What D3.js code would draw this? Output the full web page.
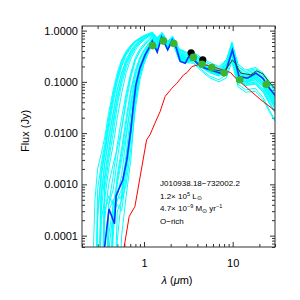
<!DOCTYPE html>
<html>
<head>
<meta charset="utf-8">
<script src="https://cdn.jsdelivr.net/npm/d3@7"></script>
<style>
	body { margin: 0; background: #fff; }
	svg { display: block; font-family: "Liberation Sans", Arial, sans-serif; }
</style>
</head>
<body>
<svg class="chart" width="300" height="300"></svg>
<script>
////////////////////////////////////////////////////////////
//// Data //////////////////////////////////////////////////
////////////////////////////////////////////////////////////
// wavelength grid of the grid models (um)
const modelWavelengths = [0.25, 0.28, 0.3, 0.33, 0.36, 0.4, 0.45, 0.5, 0.56, 0.63, 0.71, 0.8, 0.9, 1.0, 1.12, 1.25, 1.4, 1.6, 1.85, 2.1, 2.5, 3.0, 3.6, 4.5, 5.5, 7.0, 8.5, 9.8, 11.5, 14, 18, 22, 26, 30];

// acceptable models (Jy), cyan
const cyanModels = [
	[1e-6, 1e-6, 8e-4, 2.5e-3, 6e-3, 0.02, 0.06, 0.13, 0.25, 0.38, 0.5, 0.62, 0.7, 0.78, 0.85, 0.9, 0.7, 0.88, 0.6, 0.75, 0.42, 0.36, 0.36, 0.27, 0.22, 0.18, 0.25, 0.55, 0.2, 0.15, 0.17, 0.13, 0.09, 0.065],
	[1e-6, 1e-6, 1e-6, 1.5e-3, 4e-3, 0.012, 0.04, 0.1, 0.2, 0.33, 0.46, 0.58, 0.68, 0.76, 0.83, 0.9, 0.68, 0.9, 0.58, 0.74, 0.38, 0.33, 0.34, 0.25, 0.2, 0.17, 0.22, 0.5, 0.17, 0.13, 0.15, 0.11, 0.075, 0.052],
	[1e-6, 1e-6, 1e-6, 6e-4, 2.5e-3, 8e-3, 0.025, 0.07, 0.15, 0.27, 0.4, 0.53, 0.64, 0.72, 0.8, 0.87, 0.66, 0.88, 0.56, 0.72, 0.36, 0.3, 0.31, 0.23, 0.18, 0.155, 0.2, 0.45, 0.15, 0.12, 0.14, 0.1, 0.065, 0.045],
	[1e-6, 1e-6, 1e-6, 1e-6, 1.2e-3, 4e-3, 0.015, 0.045, 0.11, 0.22, 0.35, 0.48, 0.6, 0.7, 0.78, 0.85, 0.62, 0.86, 0.55, 0.7, 0.34, 0.29, 0.3, 0.22, 0.175, 0.15, 0.19, 0.4, 0.14, 0.115, 0.13, 0.095, 0.06, 0.04],
	[1e-6, 1e-6, 1e-6, 1e-6, 3e-4, 6e-4, 4e-4, 1.2e-3, 4e-3, 0.015, 0.06, 0.15, 0.28, 0.4, 0.55, 0.72, 0.5, 0.8, 0.48, 0.66, 0.3, 0.27, 0.29, 0.21, 0.17, 0.15, 0.2, 0.45, 0.13, 0.11, 0.13, 0.095, 0.06, 0.042],
	[1e-6, 1e-6, 1e-6, 1e-6, 1e-6, 5e-5, 3e-4, 4e-4, 3e-4, 1.5e-3, 8e-3, 0.045, 0.14, 0.26, 0.42, 0.62, 0.45, 0.75, 0.45, 0.62, 0.28, 0.25, 0.27, 0.2, 0.16, 0.14, 0.18, 0.38, 0.12, 0.1, 0.12, 0.085, 0.052, 0.035],
	[1e-6, 1e-6, 1e-6, 1e-6, 1e-6, 1e-6, 2e-4, 5e-4, 6e-4, 3e-3, 0.015, 0.07, 0.18, 0.3, 0.46, 0.65, 0.48, 0.78, 0.46, 0.64, 0.29, 0.26, 0.28, 0.2, 0.16, 0.14, 0.19, 0.42, 0.125, 0.1, 0.12, 0.09, 0.055, 0.038],
	[1e-6, 1e-6, 1e-6, 1e-6, 1e-6, 1e-6, 1e-6, 8e-5, 6e-4, 3e-3, 0.015, 0.06, 0.15, 0.26, 0.4, 0.58, 0.42, 0.72, 0.42, 0.6, 0.26, 0.24, 0.26, 0.19, 0.15, 0.13, 0.17, 0.35, 0.11, 0.09, 0.1, 0.07, 0.04, 0.026],
	[1e-6, 1e-6, 1e-6, 6e-4, 2.5e-3, 8e-3, 0.025, 0.07, 0.15, 0.27, 0.4, 0.53, 0.64, 0.72, 0.8, 0.86, 0.64, 0.86, 0.54, 0.7, 0.34, 0.27, 0.24, 0.17, 0.13, 0.11, 0.14, 0.28, 0.09, 0.07, 0.075, 0.05, 0.028, 0.018],
	[1e-6, 1e-6, 1e-6, 1e-6, 8e-4, 3e-3, 0.01, 0.035, 0.09, 0.19, 0.32, 0.46, 0.58, 0.68, 0.77, 0.85, 0.64, 0.87, 0.55, 0.72, 0.37, 0.32, 0.33, 0.25, 0.2, 0.17, 0.23, 0.55, 0.17, 0.13, 0.15, 0.115, 0.08, 0.058],
	[1e-6, 1e-6, 3e-4, 1.5e-3, 4e-3, 0.015, 0.05, 0.12, 0.24, 0.37, 0.5, 0.62, 0.72, 0.8, 0.87, 0.93, 0.72, 0.92, 0.62, 0.78, 0.44, 0.38, 0.38, 0.29, 0.24, 0.2, 0.27, 0.6, 0.22, 0.17, 0.19, 0.15, 0.1, 0.075],
	[1e-6, 1e-6, 1e-6, 1e-6, 1e-6, 1e-4, 4e-4, 5e-4, 8e-4, 4e-3, 0.025, 0.09, 0.2, 0.32, 0.48, 0.66, 0.5, 0.8, 0.5, 0.66, 0.31, 0.27, 0.28, 0.21, 0.165, 0.14, 0.18, 0.36, 0.12, 0.1, 0.11, 0.08, 0.048, 0.032],
	[1e-6, 1e-6, 1e-6, 1e-6, 2e-4, 1e-3, 2.5e-3, 5e-3, 0.012, 0.04, 0.12, 0.26, 0.4, 0.52, 0.64, 0.78, 0.56, 0.84, 0.52, 0.7, 0.33, 0.29, 0.3, 0.22, 0.18, 0.16, 0.21, 0.48, 0.15, 0.12, 0.14, 0.1, 0.067, 0.047],
	[1e-6, 1e-6, 1e-6, 1e-6, 1e-6, 1e-6, 1e-4, 1e-3, 3e-3, 0.01, 0.035, 0.1, 0.22, 0.34, 0.5, 0.68, 0.46, 0.8, 0.46, 0.64, 0.28, 0.25, 0.27, 0.2, 0.16, 0.135, 0.18, 0.4, 0.12, 0.095, 0.11, 0.08, 0.05, 0.034],
	[1e-6, 1e-6, 1e-6, 1e-6, 1e-6, 1e-6, 1e-6, 1e-6, 1e-4, 6e-4, 3e-3, 0.04, 0.13, 0.24, 0.38, 0.56, 0.4, 0.7, 0.42, 0.6, 0.27, 0.25, 0.26, 0.19, 0.155, 0.13, 0.17, 0.33, 0.11, 0.085, 0.095, 0.065, 0.038, 0.025],
	[1e-6, 1e-6, 2e-4, 2e-3, 5e-3, 0.016, 0.05, 0.11, 0.22, 0.35, 0.48, 0.6, 0.69, 0.77, 0.84, 0.9, 0.68, 0.88, 0.58, 0.74, 0.4, 0.34, 0.33, 0.25, 0.2, 0.17, 0.23, 0.5, 0.18, 0.14, 0.16, 0.12, 0.08, 0.058],
	[1e-6, 1e-6, 1e-6, 1e-6, 5e-4, 2e-3, 6e-3, 0.02, 0.06, 0.15, 0.28, 0.42, 0.55, 0.65, 0.75, 0.83, 0.6, 0.84, 0.52, 0.68, 0.33, 0.28, 0.28, 0.21, 0.165, 0.14, 0.18, 0.38, 0.125, 0.1, 0.11, 0.08, 0.05, 0.033],
	[1e-6, 1e-6, 1e-6, 2e-4, 5e-4, 4e-4, 8e-4, 3e-3, 0.012, 0.05, 0.14, 0.27, 0.4, 0.5, 0.62, 0.76, 0.55, 0.82, 0.5, 0.68, 0.32, 0.28, 0.3, 0.22, 0.18, 0.155, 0.21, 0.46, 0.14, 0.115, 0.135, 0.1, 0.065, 0.045],
	[1e-6, 1e-6, 1e-6, 1e-6, 1e-6, 3e-4, 5e-4, 6e-4, 1.5e-3, 8e-3, 0.04, 0.13, 0.27, 0.38, 0.52, 0.7, 0.5, 0.8, 0.48, 0.65, 0.3, 0.26, 0.27, 0.2, 0.16, 0.135, 0.175, 0.36, 0.115, 0.09, 0.1, 0.072, 0.044, 0.03],
	[1e-6, 1e-6, 1e-6, 1e-6, 1e-6, 1e-6, 5e-4, 6e-4, 5e-4, 2e-3, 0.01, 0.05, 0.15, 0.27, 0.43, 0.62, 0.46, 0.76, 0.45, 0.62, 0.28, 0.26, 0.27, 0.21, 0.17, 0.15, 0.2, 0.44, 0.13, 0.105, 0.125, 0.09, 0.058, 0.04],
	[1e-6, 1e-6, 1e-6, 1e-6, 1e-6, 1e-6, 1e-6, 3e-4, 5e-4, 1e-3, 5e-3, 0.03, 0.11, 0.22, 0.37, 0.56, 0.42, 0.72, 0.43, 0.6, 0.27, 0.25, 0.26, 0.2, 0.16, 0.14, 0.18, 0.4, 0.12, 0.1, 0.12, 0.085, 0.053, 0.036],
	[1e-6, 5e-4, 2e-3, 4e-3, 8e-3, 0.025, 0.07, 0.15, 0.27, 0.4, 0.52, 0.63, 0.72, 0.79, 0.86, 0.92, 0.72, 0.9, 0.62, 0.76, 0.43, 0.37, 0.36, 0.27, 0.22, 0.19, 0.26, 0.58, 0.2, 0.16, 0.18, 0.14, 0.095, 0.07],
	[1e-6, 1e-6, 1e-6, 1e-6, 1e-6, 4e-4, 1.5e-3, 6e-3, 0.02, 0.06, 0.15, 0.3, 0.44, 0.56, 0.68, 0.8, 0.58, 0.85, 0.53, 0.7, 0.34, 0.3, 0.31, 0.23, 0.19, 0.165, 0.22, 0.5, 0.16, 0.125, 0.145, 0.11, 0.072, 0.05],
	[1e-6, 1e-6, 1e-6, 1e-6, 1e-6, 1e-6, 2e-4, 1.5e-3, 5e-3, 0.02, 0.07, 0.17, 0.3, 0.42, 0.55, 0.7, 0.5, 0.78, 0.46, 0.62, 0.28, 0.24, 0.23, 0.16, 0.12, 0.1, 0.12, 0.25, 0.08, 0.063, 0.065, 0.045, 0.026, 0.017],
	[1e-6, 1e-6, 1e-6, 3e-4, 1.5e-3, 5e-3, 0.018, 0.05, 0.12, 0.24, 0.37, 0.5, 0.62, 0.71, 0.8, 0.87, 0.65, 0.87, 0.56, 0.71, 0.36, 0.3, 0.29, 0.21, 0.16, 0.135, 0.17, 0.34, 0.11, 0.085, 0.09, 0.063, 0.038, 0.025]
];

// best fit model, blue
const bestWavelengths = [0.35, 0.36, 0.403, 0.465, 0.485, 0.577, 0.641, 0.711, 0.76, 0.811, 0.901, 1.03, 1.17, 1.24, 1.41, 1.58, 1.85, 2.08, 2.31, 2.56, 2.92, 3.19, 3.63, 4.33, 5.62, 7.3, 7.97, 8.7, 9.93, 11.8, 14.7, 18.3, 21.8, 25.9, 30.8];
const bestFlux = [1e-5, 6e-5, 3.3e-4, 1.7e-4, 6e-4, 1.23e-3, 3.0e-3, 0.0116, 0.0356, 0.0875, 0.187, 0.336, 0.5, 0.63, 0.38, 0.75, 0.42, 0.66, 0.46, 0.25, 0.23, 0.31, 0.27, 0.2, 0.17, 0.148, 0.137, 0.2, 0.42, 0.127, 0.118, 0.148, 0.118, 0.075, 0.052];

// stellar photosphere, red
const starWavelengths = [0.59, 0.597, 0.681, 0.79, 1.07, 1.17, 1.33, 1.52, 1.73, 2.06, 2.35, 2.8, 3.06, 3.48, 4.33, 5.62, 7.64, 9.49, 10.8, 14.7, 20.8, 30.8];
const starFlux = [1e-5, 6e-5, 2.37e-4, 3.7e-4, 7.4e-3, 9.3e-3, 0.0157, 0.0264, 0.0517, 0.075, 0.094, 0.137, 0.152, 0.199, 0.221, 0.205, 0.171, 0.152, 0.118, 0.075, 0.0446, 0.0264];

// IRS spectrum, dark line
const irsWavelengths = [5.34, 6.41, 7.97, 8.77, 9.93, 10.8, 12.3, 16.0, 18.7, 21.9, 25.7, 30.8];
const irsFlux = [0.187, 0.171, 0.157, 0.196, 0.268, 0.224, 0.148, 0.137, 0.164, 0.143, 0.1, 0.07];

// photometry
const photWavelengths = [1.25, 1.65, 2.17, 3.6, 4.5, 5.8, 8.0, 12, 24];
const photFlux = [0.51, 0.63, 0.56, 0.30, 0.22, 0.19, 0.15, 0.11, 0.09];
const wiseWavelengths = [3.4, 4.6];
const wiseFlux = [0.37, 0.27];

const yTicks = [1, 0.1, 0.01, 0.001, 0.0001];
const xTicks = [1, 10];

const sourceName = "J010938.18\u2212732002.2";

////////////////////////////////////////////////////////////
//// Setup /////////////////////////////////////////////////
////////////////////////////////////////////////////////////
const svg = d3.select(".chart");
const margin = { top: 26, right: 25, bottom: 53, left: 82 };
const width = 300 - margin.left - margin.right;
const height = 300 - margin.top - margin.bottom;

const x = d3.scaleLog().domain([0.2, 30]).range([0, width]);
const y = d3.scaleLog().domain([6e-5, 1.23]).range([height, 0]);

const g = svg
	.append("g")
	.attr("transform", `translate(${margin.left},${margin.top})`);

g.append("clipPath")
	.attr("id", "clip")
	.append("rect")
	.attr("width", width)
	.attr("height", height);

const line = d3
	.line()
	.x(d => x(d[0]))
	.y(d => y(d[1]));

const axisColor = "#333";

////////////////////////////////////////////////////////////
//// Axes //////////////////////////////////////////////////
////////////////////////////////////////////////////////////
const xMinor = [];
const yMinor = [];
[0.1, 1, 10].forEach(dec => {
	for (let k = 2; k <= 9; k++) {
		const v = dec * k;
		if (v >= 0.2 && v <= 30) xMinor.push(v);
	}
});
[1e-5, 1e-4, 1e-3, 1e-2, 1e-1, 1].forEach(dec => {
	for (let k = 2; k <= 9; k++) {
		const v = dec * k;
		if (v >= 6e-5 && v <= 1.23) yMinor.push(v);
	}
});

function styleAxis(sel) {
	sel.select(".domain").remove();
	sel.selectAll("line").attr("stroke", axisColor);
	sel.selectAll("text")
		.attr("fill", "#000")
		.style("font-size", "11px");
}

g.append("g")
	.attr("transform", `translate(0,${height})`)
	.call(d3.axisBottom(x).tickValues(xTicks).tickSize(-5).tickPadding(12).tickFormat(d3.format("d")))
	.call(styleAxis);
g.append("g")
	.attr("transform", `translate(0,${height})`)
	.call(d3.axisBottom(x).tickValues(xMinor).tickSize(-3).tickFormat(""))
	.call(styleAxis);
g.append("g")
	.call(d3.axisTop(x).tickValues(xTicks).tickSize(-5).tickFormat(""))
	.call(styleAxis);
g.append("g")
	.call(d3.axisTop(x).tickValues(xMinor).tickSize(-3).tickFormat(""))
	.call(styleAxis);

g.append("g")
	.call(d3.axisLeft(y).tickValues(yTicks).tickSize(-5).tickPadding(4).tickFormat(d3.format(".4f")))
	.call(styleAxis);
g.append("g")
	.call(d3.axisLeft(y).tickValues(yMinor).tickSize(-3).tickFormat(""))
	.call(styleAxis);
g.append("g")
	.attr("transform", `translate(${width},0)`)
	.call(d3.axisRight(y).tickValues(yTicks).tickSize(-5).tickFormat(""))
	.call(styleAxis);
g.append("g")
	.attr("transform", `translate(${width},0)`)
	.call(d3.axisRight(y).tickValues(yMinor).tickSize(-3).tickFormat(""))
	.call(styleAxis);

////////////////////////////////////////////////////////////
//// Lines /////////////////////////////////////////////////
////////////////////////////////////////////////////////////
const gLines = g.append("g").attr("clip-path", "url(#clip)").attr("fill", "none");

gLines
	.selectAll(".model")
	.data(cyanModels)
	.join("path")
	.attr("class", "model")
	.attr("stroke", "#00ffff")
	.attr("stroke-width", 1)
	.attr("d", m => line(m.map((f, i) => [modelWavelengths[i], f])));

gLines
	.append("path")
	.attr("stroke", "#ff0000")
	.attr("stroke-width", 1)
	.attr("d", line(starWavelengths.map((w, i) => [w, starFlux[i]])));

gLines
	.append("path")
	.attr("stroke", "#0033ff")
	.attr("stroke-width", 1.6)
	.attr("d", line(bestWavelengths.map((w, i) => [w, bestFlux[i]])));

gLines
	.append("path")
	.attr("stroke", "#1c4a1c")
	.attr("stroke-width", 1)
	.attr("d", line(irsWavelengths.map((w, i) => [w, irsFlux[i]])));

g.append("g")
	.selectAll("circle")
	.data(wiseWavelengths.map((w, i) => [w, wiseFlux[i]]))
	.join("circle")
	.attr("cx", d => x(d[0]))
	.attr("cy", d => y(d[1]))
	.attr("r", 3.6)
	.attr("fill", "#000");

g.append("g")
	.selectAll("circle")
	.data(photWavelengths.map((w, i) => [w, photFlux[i]]))
	.join("circle")
	.attr("cx", d => x(d[0]))
	.attr("cy", d => y(d[1]))
	.attr("r", 3.8)
	.attr("fill", "#3cb432");

// frame
g.append("rect")
	.attr("width", width)
	.attr("height", height)
	.attr("fill", "none")
	.attr("stroke", axisColor)
	.attr("stroke-width", 1);

////////////////////////////////////////////////////////////
//// Labels ////////////////////////////////////////////////
////////////////////////////////////////////////////////////
svg.append("text")
	.attr("transform", "translate(29,131) rotate(-90)")
	.attr("text-anchor", "middle")
	.style("font-size", "11px")
	.text("Flux (Jy)");

const xl = svg.append("text")
	.attr("x", 177)
	.attr("y", 284)
	.attr("text-anchor", "middle")
	.style("font-size", "11px");
xl.append("tspan").attr("font-style", "italic").text("\u03bb");
xl.append("tspan").text(" (");
xl.append("tspan").attr("font-style", "italic").text("\u03bc");
xl.append("tspan").text("m)");

const note = svg.append("g")
	.attr("transform", "translate(160,0)")
	.style("font-size", "8px");
note.append("text").attr("y", 186).text(sourceName);

const l2 = note.append("text").attr("y", 198.5);
l2.append("tspan").text("1.2\u00d7 10");
l2.append("tspan").attr("dy", -3).style("font-size", "5.5px").text("5");
l2.append("tspan").attr("dy", 3).text(" L");
l2.append("tspan").attr("dy", 1.5).style("font-size", "5.5px").text("\u2299");

const l3 = note.append("text").attr("y", 211);
l3.append("tspan").text("4.7\u00d7 10");
l3.append("tspan").attr("dy", -3).style("font-size", "5.5px").text("\u22129");
l3.append("tspan").attr("dy", 3).text(" M");
l3.append("tspan").attr("dy", 1.5).style("font-size", "5.5px").text("\u2299");
l3.append("tspan").attr("dy", -1.5).text(" yr");
l3.append("tspan").attr("dy", -3).style("font-size", "5.5px").text("\u22121");

note.append("text").attr("y", 223.5).text("O\u2212rich");
</script>
</body>
</html>
